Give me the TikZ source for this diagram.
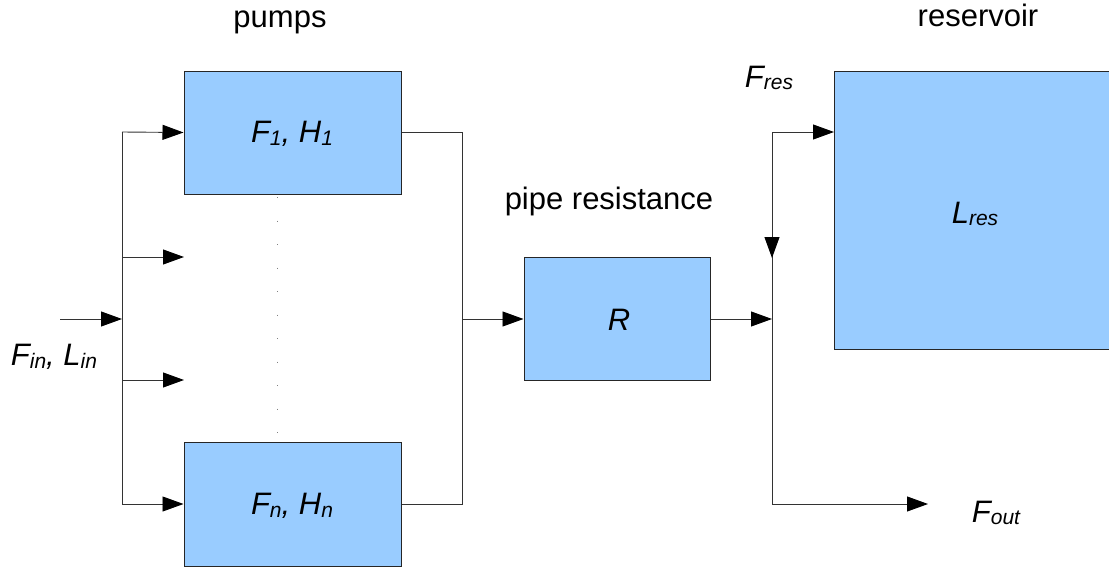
\documentclass[tikz,border=0pt]{standalone}
\usepackage{fontspec}
\setmainfont{Liberation Sans}
\usetikzlibrary{arrows.meta}
\definecolor{boxblue}{HTML}{99CCFF}
\newcommand\mysub[1]{\raisebox{-2.5pt}{\fontsize{21}{25}\selectfont #1}}
\begin{document}
\begin{tikzpicture}[x=1pt,y=-1pt,
  box/.style={draw=black!85, fill=boxblue, line width=1pt, inner sep=0pt},
  lbl/.style={font=\fontsize{31}{37}\selectfont, inner sep=0pt},
  ilbl/.style={font=\fontsize{31}{37}\selectfont\itshape, inner sep=0pt},
  conn/.style={line width=0.9pt, draw=black!80},
  arr/.style={conn, -{Triangle[length=21pt,width=15pt,color=black,fill=black]}}]
\useasboundingbox (0,0) rectangle (1109,571);
% boxes
\node[box, minimum width=217pt, minimum height=123pt] (p1) at (292.5,132.5) {};
\node[box, minimum width=217pt, minimum height=124pt] (pn) at (292.5,504) {};
\node[box, minimum width=186pt, minimum height=123pt] (r) at (617,318.5) {};
\fill[boxblue] (834,71) rectangle (1112,349);
\draw[line width=1pt, draw=black!85] (1112,71) -- (834,71) -- (834,349) -- (1112,349);
\coordinate (resw) at (834,132);
% texts
\node[ilbl] (t1) at (292,134) {F\mysub{1}, H\mysub{1}};
\node[ilbl] (tn) at (292,506) {F\mysub{n}, H\mysub{n}};
\node[ilbl] (tr) at (619,320) {R};
\node[ilbl] (tres) at (975,214) {L\mysub{res}};
\node[lbl, anchor=base] (pumps) at (280,27) {pumps};
\node[lbl, anchor=base] (reservoir) at (978,26) {reservoir};
\node[lbl] (pipe) at (609,201) {pipe resistance};
\node[ilbl] (fres) at (769,78) {F\mysub{res}};
\node[ilbl] (fin) at (54,357) {F\mysub{in}, L\mysub{in}};
\node[ilbl] (fout) at (996,513) {F\mysub{out}};
% coordinates
\coordinate (in0) at (60,319);
\coordinate (lb1) at (122,132);
\coordinate (lb2) at (122,257);
\coordinate (lbm) at (122,319);
\coordinate (lb3) at (122,380);
\coordinate (lb4) at (122,504);
\coordinate (a2) at (184,257);
\coordinate (a3) at (184,380);
\coordinate (rb1) at (462,132);
\coordinate (rbm) at (462,319);
\coordinate (rb4) at (462,504);
\coordinate (j1) at (772,132);
\coordinate (jd) at (772,258);
\coordinate (jm) at (772,319);
\coordinate (j4) at (772,504);
\coordinate (out) at (928,504);
\coordinate (d0) at (277,197);
\coordinate (d1) at (277,442);
% dotted line
\draw[gray, line width=1pt, dash pattern=on 1pt off 22.5pt] (d0) -- (d1);
% left bus
\draw[arr] (in0) -- (lbm);
\draw[conn] (lb1) -- (lb4);
\draw[arr] (lb1) -- (p1.west);
\draw[arr] (lb2) -- (a2);
\draw[arr] (lb3) -- (a3);
\draw[arr] (lb4) -- (pn.west);
% right bus
\draw[conn] (p1.east |- rb1) -- (rb1) -- (rb4) -- (pn.east |- rb4);
\draw[arr] (rbm) -- (r.west |- rbm);
% reservoir junction
\draw[arr] (r.east |- jm) -- (jm);
\draw[conn] (j1) -- (j4);
\draw[arr] (j1) -- (resw);
\draw[arr] (j1) -- (jd);
\draw[arr] (j4) -- (out);
\end{tikzpicture}
\end{document}
